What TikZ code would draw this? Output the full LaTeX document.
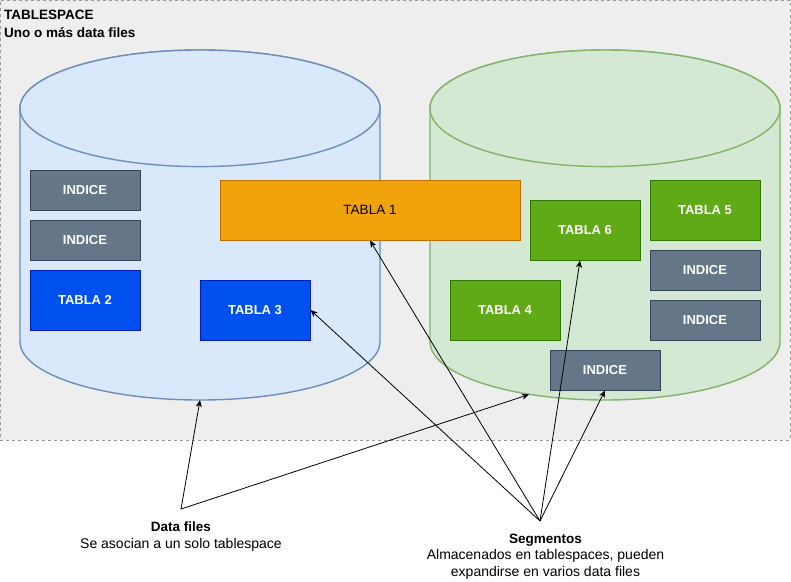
\documentclass[tikz,border=0pt]{standalone}
\usepackage{fontspec}
\setmainfont{Liberation Sans}
\usetikzlibrary{arrows.meta}
\definecolor{tsfill}{HTML}{EEEEEE}
\definecolor{tsdraw}{HTML}{999999}
\definecolor{idxfill}{HTML}{647687}
\definecolor{idxdraw}{HTML}{314354}
\definecolor{bluefill}{HTML}{0050EF}
\definecolor{bluedraw}{HTML}{001DBC}
\definecolor{orfill}{HTML}{F0A30A}
\definecolor{ordraw}{HTML}{BD7000}
\definecolor{grfill}{HTML}{60A917}
\definecolor{grdraw}{HTML}{2D7600}
\definecolor{cylafill}{HTML}{DAE8FC}
\definecolor{cyladraw}{HTML}{6C8EBF}
\definecolor{cylbfill}{HTML}{D5E8D4}
\definecolor{cylbdraw}{HTML}{82B366}
\tikzset{
  txt/.style={font=\fontsize{14}{16}\selectfont, inner sep=0pt},
  btxt/.style={font=\fontsize{13.5}{16}\selectfont\bfseries, inner sep=0pt},
  tsbox/.style={draw=tsdraw, fill=tsfill, line width=0.8pt, dash pattern=on 3pt off 3pt, anchor=north west, inner sep=0pt},
  seg/.style={draw, line width=1pt, inner sep=0pt, minimum width=110pt, font=\fontsize{13}{15}\selectfont\bfseries, text=white},
  indice/.style={seg, fill=idxfill, draw=idxdraw, minimum height=40pt},
  tblue/.style={seg, fill=bluefill, draw=bluedraw, minimum height=60pt},
  tgreen/.style={seg, fill=grfill, draw=grdraw, minimum height=60pt},
  torange/.style={seg, fill=orfill, draw=ordraw, minimum height=60pt, minimum width=300pt, font=\fontsize{13.5}{15}\selectfont, text=black},
  cyla/.style={fill=cylafill, draw=cyladraw, line width=1.4pt},
  cylb/.style={fill=cylbfill, draw=cylbdraw, line width=1.4pt},
  arr/.style={draw=black, line width=0.8pt, -{Stealth[length=7pt,width=6pt,inset=2pt]}},
}
\begin{document}
\begin{tikzpicture}[x=1pt,y=-1pt]
\useasboundingbox (0,0) rectangle (791,581);
\node[tsbox, minimum width=790pt, minimum height=440pt] (ts) at (0,0) {};
\node[btxt, anchor=base west] (tsl1) at (4,19.8) {TABLESPACE};
\node[btxt, anchor=base west] (tsl2) at (4,37) {Uno o más data files};
% left cylinder
\path[cyla] (20,108.3) -- (20,341.7) .. controls (20,373.9) and (100.6,400) .. (200,400) .. controls (299.4,400) and (380,373.9) .. (380,341.7) -- (380,108.3) .. controls (380,76.1) and (299.4,50) .. (200,50) .. controls (100.6,50) and (20,76.1) .. (20,108.3) -- cycle;
\path[cyla] (200,108.3) ellipse [x radius=180, y radius=58.3];
% right cylinder
\path[cylb] (430,108.3) -- (430,341.7) .. controls (430,373.9) and (508.35,400) .. (605,400) .. controls (701.65,400) and (780,373.9) .. (780,341.7) -- (780,108.3) .. controls (780,76.1) and (701.65,50) .. (605,50) .. controls (508.35,50) and (430,76.1) .. (430,108.3) -- cycle;
\path[cylb] (605,108.3) ellipse [x radius=175, y radius=58.3];
\coordinate (c1b) at (200,400);
\coordinate (c2b) at (529,394.5);
% segments
\node[indice] (i1) at (85,190) {INDICE};
\node[indice] (i2) at (85,240) {INDICE};
\node[tblue] (t2) at (85,300) {TABLA 2};
\node[tblue] (t3) at (255,310) {TABLA 3};
\node[torange] (t1) at (370,210) {TABLA 1};
\node[tgreen] (t6) at (585,230) {TABLA 6};
\node[tgreen] (t5) at (705,210) {TABLA 5};
\node[indice] (i3) at (705,270) {INDICE};
\node[indice] (i4) at (705,320) {INDICE};
\node[tgreen] (t4) at (505,310) {TABLA 4};
\node[indice] (i5) at (605,370) {INDICE};
% labels
\coordinate (df) at (181,509);
\coordinate (sg) at (540,521);
\node[btxt, anchor=base] (dfl1) at (181,531.5) {Data files};
\node[txt, anchor=base] (dfl2) at (181,548.5) {Se asocian a un solo tablespace};
\node[btxt, anchor=base] (sgl1) at (545.5,543) {Segmentos};
\node[txt, anchor=base] (sgl2) at (545.5,559.5) {Almacenados en tablespaces, pueden};
\node[txt, anchor=base] (sgl3) at (545.5,576) {expandirse en varios data files};
% arrows
\draw[arr] (df) -- (c1b);
\draw[arr] (df) -- (c2b);
\draw[arr] (sg) -- (t1.south);
\draw[arr] (sg) -- (t3.east);
\draw[arr] (sg) -- ([xshift=-5pt]t6.south);
\draw[arr] (sg) -- (i5.south);
\end{tikzpicture}
\end{document}
